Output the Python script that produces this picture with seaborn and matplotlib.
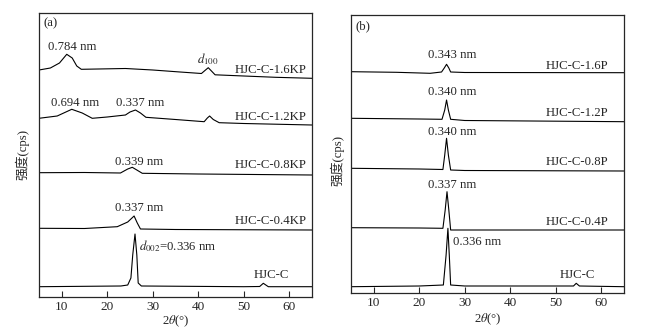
import matplotlib
matplotlib.use("Agg")
import matplotlib.pyplot as plt
import pandas as pd
import seaborn as sns

sns.set_style("ticks")
plt.rcParams["font.family"] = ["Liberation Serif", "Noto Sans CJK SC"]
plt.rcParams["mathtext.fontset"] = "stix"

# ---- panel (a): stacked XRD traces (2theta in degrees, intensity in a.u.)
a_names = ["HJC-C-1.6KP", "HJC-C-1.2KP", "HJC-C-0.8KP", "HJC-C-0.4KP", "HJC-C"]
a_tt = [
    [5, 7.5, 9.5, 11.1, 12.3, 13.3, 14.3, 18, 24, 30, 36, 40.7, 41.6, 42.2, 42.9, 43.7, 50, 57, 65],
    [5, 9, 12.2, 14.5, 16.7, 20, 24.0, 25, 26.2, 27.3, 28.5, 35, 41.3, 42, 42.5, 43.3, 44.6, 50, 65],
    [5, 15, 22.9, 24.5, 25.5, 26.5, 27.7, 40, 65],
    [5, 15, 22.2, 24.5, 25.9, 26.6, 27.3, 35, 65],
    [5, 23, 24.5, 25.2, 25.6, 26.1, 26.5, 26.8, 27.5, 50, 53.5, 54.3, 55.4, 65],
]
a_int = [
    [227.0, 229.0, 234.0, 242.7, 239.0, 231.0, 227.7, 228.0, 228.5, 227.0, 225.0, 223.5, 227.0, 229.3, 226.0, 222.2, 221.0, 219.7, 218.7],
    [178.7, 181, 187.7, 184, 178.7, 180, 182, 185, 187, 184, 179.7, 177.5, 175.3, 179, 181, 177.5, 174.3, 173.5, 172],
    [124.3, 124.5, 124, 128, 129.7, 127, 123.7, 123, 122],
    [68.7, 68.5, 70.3, 75, 81, 74, 68, 67.5, 67],
    [10.3, 11, 12, 19, 42, 63, 42, 14, 11, 10.3, 10.5, 13.7, 10.3, 10.3],
]
a_name_y = [227, 180.3, 131.5, 76]

# ---- panel (b)
b_names = ["HJC-C-1.6P", "HJC-C-1.2P", "HJC-C-0.8P", "HJC-C-0.4P", "HJC-C"]
b_tt = [
    [5, 15, 22.4, 24.9, 25.5, 26.0, 26.5, 26.9, 30, 65],
    [5, 20, 25.0, 25.6, 26.0, 26.4, 26.9, 30, 65],
    [5, 20, 25.2, 25.6, 26.0, 26.4, 26.9, 30, 65],
    [5, 20, 25.2, 25.7, 26.1, 26.5, 26.9, 30, 65],
    [5, 20, 25.3, 25.9, 26.3, 26.6, 26.9, 30, 53.9, 54.5, 55.2, 65],
]
b_int = [
    [221.3, 220.7, 219.7, 221, 225, 228.7, 225, 221, 220.5, 220.3],
    [174.7, 174, 173.7, 183, 193, 183, 173.7, 172.5, 171.3],
    [124.7, 124, 123.5, 138, 154.7, 138, 123, 122.5, 122],
    [65.3, 65, 64.7, 83, 101.3, 83, 63, 63, 63],
    [6.3, 7, 8, 38, 64.7, 38, 8, 7, 7, 9.7, 7, 6.3],
]
b_name_y = [227.3, 179.7, 131.3, 71.3]

xticks = [10, 20, 30, 40, 50, 60]


def to_df(names, tts, ints):
    rows = []
    for n, t, v in zip(names, tts, ints):
        for xx, yy in zip(t, v):
            rows.append({"sample": n, "tt": xx, "I": yy})
    return pd.DataFrame(rows)


fig = plt.figure(figsize=(6.45, 3.35), dpi=100)
axa = fig.add_axes([39 / 645, 1 - 297 / 335, 273 / 645, 284 / 335])
axb = fig.add_axes([351 / 645, 1 - 293 / 335, 273 / 645, 278 / 335])

fs = 9.2
for ax, names, tts, ints, top, ylab_pos, xlab_y in [
    (axa, a_names, a_tt, a_int, 284, (-0.062, 0.5), -0.087),
    (axb, b_names, b_tt, b_int, 278, (-0.051, 0.478), -0.094),
]:
    df = to_df(names, tts, ints)
    sns.lineplot(data=df, x="tt", y="I", units="sample", estimator=None, sort=False,
                 color="black", lw=0.8, ax=ax)
    ax.set_xlim(5, 65)
    ax.set_ylim(0, top)
    ax.set_xticks(xticks)
    ax.set_yticks([])
    ax.tick_params(axis="x", direction="in", length=4, width=0.8, pad=3, labelsize=9.5)
    for s in ax.spines.values():
        s.set_linewidth(0.9)
    ax.set_xlabel(r"2$\theta$(°)", fontsize=fs, va="center")
    ax.set_ylabel("强度(cps)", fontsize=fs, va="center")
    ax.xaxis.set_label_coords(0.5, xlab_y)
    ax.yaxis.set_label_coords(*ylab_pos)

# annotations (a)
axa.text(5.9, 273.7, "(a)", fontsize=fs, va="center", ha="left")
for n, y in zip(a_names[:4], a_name_y):
    axa.text(63.8, y, n, fontsize=fs, va="center", ha="right")
axa.text(56.1, 22, "HJC-C", fontsize=fs, va="center", ha="center")
axa.text(12.4, 250.3, "0.784 nm", fontsize=fs, va="center", ha="center")
axa.text(42.2, 238, r"$d_{100}$", fontsize=fs, va="center", ha="center")
axa.text(13.0, 193.7, "0.694 nm", fontsize=fs, va="center", ha="center")
axa.text(27.3, 193.7, "0.337 nm", fontsize=fs, va="center", ha="center")
axa.text(27.1, 135.3, "0.339 nm", fontsize=fs, va="center", ha="center")
axa.text(27.0, 89.3, "0.337 nm", fontsize=fs, va="center", ha="center")
axa.text(27.0, 51.3, r"$d_{002}$=0.336 nm", fontsize=fs, va="center", ha="left")

# annotations (b)
axb.text(5.9, 266.3, "(b)", fontsize=fs, va="center", ha="left")
for n, y in zip(b_names[:4], b_name_y):
    axb.text(61.5, y, n, fontsize=fs, va="center", ha="right")
axb.text(54.8, 18, "HJC-C", fontsize=fs, va="center", ha="center")
axb.text(27.3, 238, "0.343 nm", fontsize=fs, va="center", ha="center")
axb.text(27.2, 200.7, "0.340 nm", fontsize=fs, va="center", ha="center")
axb.text(27.2, 161.3, "0.340 nm", fontsize=fs, va="center", ha="center")
axb.text(27.3, 108, "0.337 nm", fontsize=fs, va="center", ha="center")
axb.text(27.4, 51.3, "0.336 nm", fontsize=fs, va="center", ha="left")

fig.savefig("out.png", dpi=100)
